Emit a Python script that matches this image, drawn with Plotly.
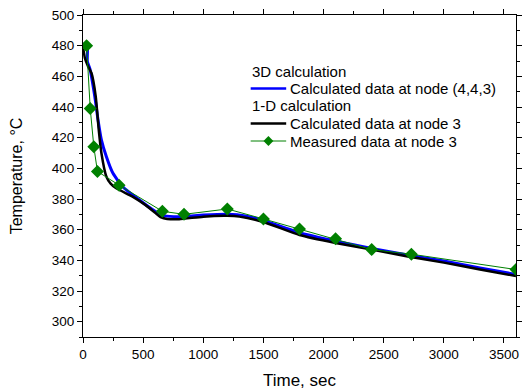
import plotly.graph_objects as go

# 3D calculation, node (4,4,3)
t_3d = [8, 35, 36, 57, 98, 125, 153, 194, 248, 330, 466, 600, 680, 800, 1000, 1200, 1350, 1500,
        1800, 2100, 2400, 2700, 3000, 3300, 3600]
T_3d = [481.5, 481.5, 469.6, 465, 446.8, 431.6, 418.6, 407.7, 396.9, 388, 379.5, 372, 369, 368.5,
        369.5, 370, 369, 366, 358, 352.5, 347.8, 343.5, 339.5, 335, 330.8]

# 1-D calculation, node 3
t_1d = [0, 16, 45, 71, 106, 131, 153, 194, 230, 276, 412, 521, 600, 650, 700, 800, 1000, 1200,
        1300, 1500, 1800, 2100, 2400, 2700, 3000, 3300, 3600]
T_1d = [479.4, 471.8, 466, 462, 446.8, 425, 410, 394.7, 390, 387, 381.6, 376, 371, 368, 367,
        366.8, 368.5, 369, 368.5, 365, 356.5, 351.3, 347, 342.5, 338.5, 334, 329.8]

# Measured, node 3
t_meas = [30, 60, 90, 120, 300, 660, 840, 1200, 1500, 1800, 2100, 2400, 2730, 3600]
T_meas = [480, 439, 414, 398, 389, 372, 370, 373.5, 367, 360.5, 354, 347, 344, 334]

x_ticks = [0, 500, 1000, 1500, 2000, 2500, 3000, 3500]
y_ticks = [300, 320, 340, 360, 380, 400, 420, 440, 460, 480, 500]

# legend rows: (kind, label, colour)
legend_rows = [
    ("title", "3D calculation", None),
    ("line", "Calculated data at node (4,4,3)", "#0000FF"),
    ("title", "1-D calculation", None),
    ("line", "Calculated data at node 3", "#000000"),
    ("marker", "Measured data at node 3", "#008000"),
]

W, H = 526, 392
ML, MR, MT, MB = 83, 4, 15, 55
PW, PH = W - ML - MR, H - MT - MB


def px(x):
    return (x - ML) / PW


def py(y):
    return 1 - (y - MT) / PH


fig = go.Figure()
fig.add_trace(go.Scatter(
    x=t_3d, y=T_3d, mode="lines", name="Calculated data at node (4,4,3)",
    line=dict(color="#0000FF", width=3, shape="spline", smoothing=0.5),
))
fig.add_trace(go.Scatter(
    x=t_1d, y=T_1d, mode="lines", name="Calculated data at node 3",
    line=dict(color="#000000", width=2.5, shape="spline", smoothing=0.5),
))
fig.add_trace(go.Scatter(
    x=t_meas, y=T_meas, mode="lines+markers", name="Measured data at node 3",
    line=dict(color="#008000", width=1),
    marker=dict(symbol="diamond", size=10, color="#008000"),
))

# manual legend (Origin style)
leg_x0, leg_y0, row_h = 253, 71, 17.5
sym_w, txt_x = 36, 292
LFONT = dict(family="Arial, Liberation Sans", size=15, color="black")
shapes, annotations = [], []
for i, (kind, label, col) in enumerate(legend_rows):
    yy = leg_y0 + i * row_h
    if kind == "title":
        annotations.append(dict(xref="paper", yref="paper", x=px(leg_x0 - 1), y=py(yy),
                                xanchor="left", yanchor="middle", text=label,
                                showarrow=False, font=LFONT))
        continue
    shapes.append(dict(type="line", xref="paper", yref="paper",
                       x0=px(leg_x0), x1=px(leg_x0 + sym_w), y0=py(yy), y1=py(yy),
                       line=dict(color=col, width=2.5 if kind == "line" else 1)))
    if kind == "marker":
        cx, cy, r = leg_x0 + sym_w / 2, yy, 5
        path = (f"M {px(cx)},{py(cy - r)} L {px(cx + r)},{py(cy)} "
                f"L {px(cx)},{py(cy + r)} L {px(cx - r)},{py(cy)} Z")
        shapes.append(dict(type="path", xref="paper", yref="paper", path=path,
                           fillcolor=col, line=dict(color=col, width=0)))
    annotations.append(dict(xref="paper", yref="paper", x=px(txt_x - 1), y=py(yy),
                            xanchor="left", yanchor="middle", text=label,
                            showarrow=False, font=LFONT))

axis_common = dict(
    showline=True, linecolor="black", linewidth=1.2, mirror="ticks",
    ticks="outside", ticklen=5, tickwidth=1, tickcolor="black",
    showgrid=False, zeroline=False,
    tickfont=dict(family="Arial, Liberation Sans", size=13.5, color="black"),
    minor=dict(ticks="outside", ticklen=3, tickwidth=1, tickcolor="black", showgrid=False),
)

fig.update_layout(
    width=W, height=H,
    margin=dict(l=ML, r=MR, t=MT, b=MB),
    paper_bgcolor="white", plot_bgcolor="white",
    font=dict(family="Arial, Liberation Sans", color="black"),
    xaxis=dict(range=[0, 3600], tickvals=x_ticks, minor_dtick=250,
               title=dict(text="Time, sec", font=dict(size=17), standoff=12), **axis_common),
    yaxis=dict(range=[290, 500], tickvals=y_ticks, minor_dtick=10,
               title=dict(text="Temperature, °C", font=dict(size=16), standoff=25), **axis_common),
    showlegend=False,
    shapes=shapes,
    annotations=annotations,
)

fig.write_html("out.html")
